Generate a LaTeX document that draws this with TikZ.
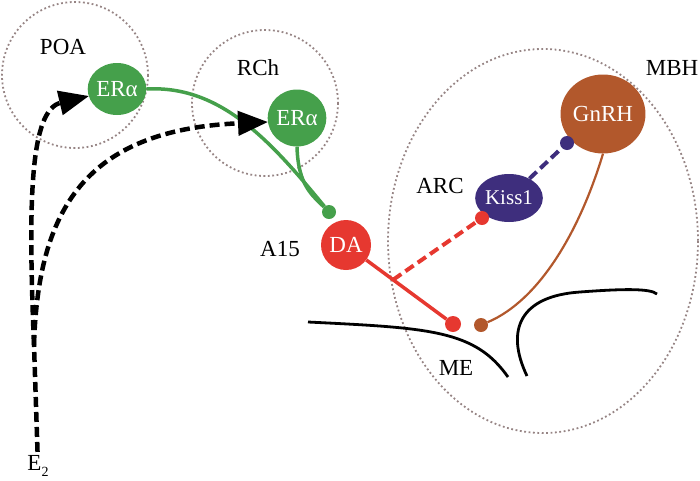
\documentclass[tikz,border=0pt]{standalone}
\usepackage{fontspec}
\setmainfont{Liberation Serif}
\usetikzlibrary{shapes.geometric,arrows.meta,calc}
\definecolor{ergreen}{RGB}{69,160,75}
\definecolor{dared}{RGB}{230,56,48}
\definecolor{gnbrown}{RGB}{178,88,44}
\definecolor{kissblue}{RGB}{62,46,125}
\definecolor{regiongray}{RGB}{150,132,132}
\begin{document}
\begin{tikzpicture}[x=1pt,y=-1pt,
    region/.style={draw=regiongray, line width=1.8pt, dash pattern=on 1.8pt off 2.6pt},
    cell/.style={ellipse, inner sep=0pt, text=white, font=\fontsize{23}{23}\selectfont},
    dot/.style={circle, inner sep=0pt, minimum size=14pt},
    lab/.style={font=\fontsize{23}{23}\selectfont},
    e2arrow/.style={line width=4.5pt, dash pattern=on 10pt off 5pt, -{Triangle[length=30pt,width=24pt]}}]
    \useasboundingbox (0,0) rectangle (700,480);

    % Regions
    \draw[region] (75,75) circle (73);
    \draw[region] (265,103) circle (73);
    \draw[region] (543,241) ellipse (155 and 192);
    \node[lab] (poa) at (63,47) {POA};
    \node[lab] (rch) at (258,68) {RCh};
    \node[lab] (mbh) at (672,68) {MBH};
    \node[lab] (arc) at (440,186) {ARC};
    \node[lab] (a15) at (280,249) {A15};
    \node[lab] (me) at (456,368) {ME};

    % Median eminence outline
    \draw[line width=2.8pt] (308,322) .. controls (430,328) and (475,330) .. (508,377);
    \draw[line width=2.8pt] (527,376) .. controls (505,330) and (520,296) .. (580,292)
        .. controls (620,289) and (650,288) .. (657,294);

    % Cells
    \node[cell, fill=ergreen, minimum width=49pt, minimum height=52pt] (poaer) at (117,89) {ERα};
    \node[cell, fill=ergreen, minimum width=48pt, minimum height=57pt] (rcher) at (297,118) {ERα};
    \node[cell, fill=dared, minimum width=50pt, minimum height=50pt] (da) at (346,245) {DA};
    \node[cell, fill=kissblue, minimum width=53pt, minimum height=48pt, font=\fontsize{21}{21}\selectfont] (kiss) at (509,198) {Kiss1};
    \node[cell, fill=gnbrown, minimum width=76pt, minimum height=79pt] (gnrh) at (603,114) {GnRH};

    % Terminals
    \node[dot, fill=ergreen] (gdot) at (329,212) {};
    \node[dot, fill=dared, minimum size=16pt] (medot) at (453,324) {};
    \node[dot, fill=gnbrown] (bdot) at (481,325) {};
    \node[dot, fill=dared] (rdot) at (482,218) {};
    \node[dot, fill=kissblue] (ndot) at (567,143) {};
    \coordinate (branch) at ($(da)!0.44!(medot)$);

    % Projections
    \draw[ergreen, line width=3.5pt] (poaer.east) .. controls (220,85) and (270,140) .. (gdot);
    \draw[ergreen, line width=3.5pt] (rcher.south) .. controls (298,185) and (312,195) .. (gdot);
    \draw[dared, line width=3.5pt] (da) -- (medot);
    \draw[dared, line width=4pt, dash pattern=on 10pt off 5pt] (branch) -- (rdot);
    \draw[kissblue, line width=4pt, dash pattern=on 10pt off 5pt] (kiss) -- (ndot);
    \draw[gnbrown, line width=2.2pt] (gnrh.south) .. controls (580,230) and (540,300) .. (bdot);

    % Estradiol
    \node[lab] (e2) at (38,466) {E\raisebox{-6pt}{\fontsize{14}{14}\selectfont 2}};
    \coordinate (e2top) at (34,345);
    \draw[line width=4.5pt, dash pattern=on 10pt off 5pt] (e2) -- (e2top);
    \draw[e2arrow] (e2top) .. controls (28,200) and (30,110) .. (89,96);
    \draw[e2arrow] (e2top) .. controls (38,210) and (85,130) .. (268,122);
\end{tikzpicture}
\end{document}
